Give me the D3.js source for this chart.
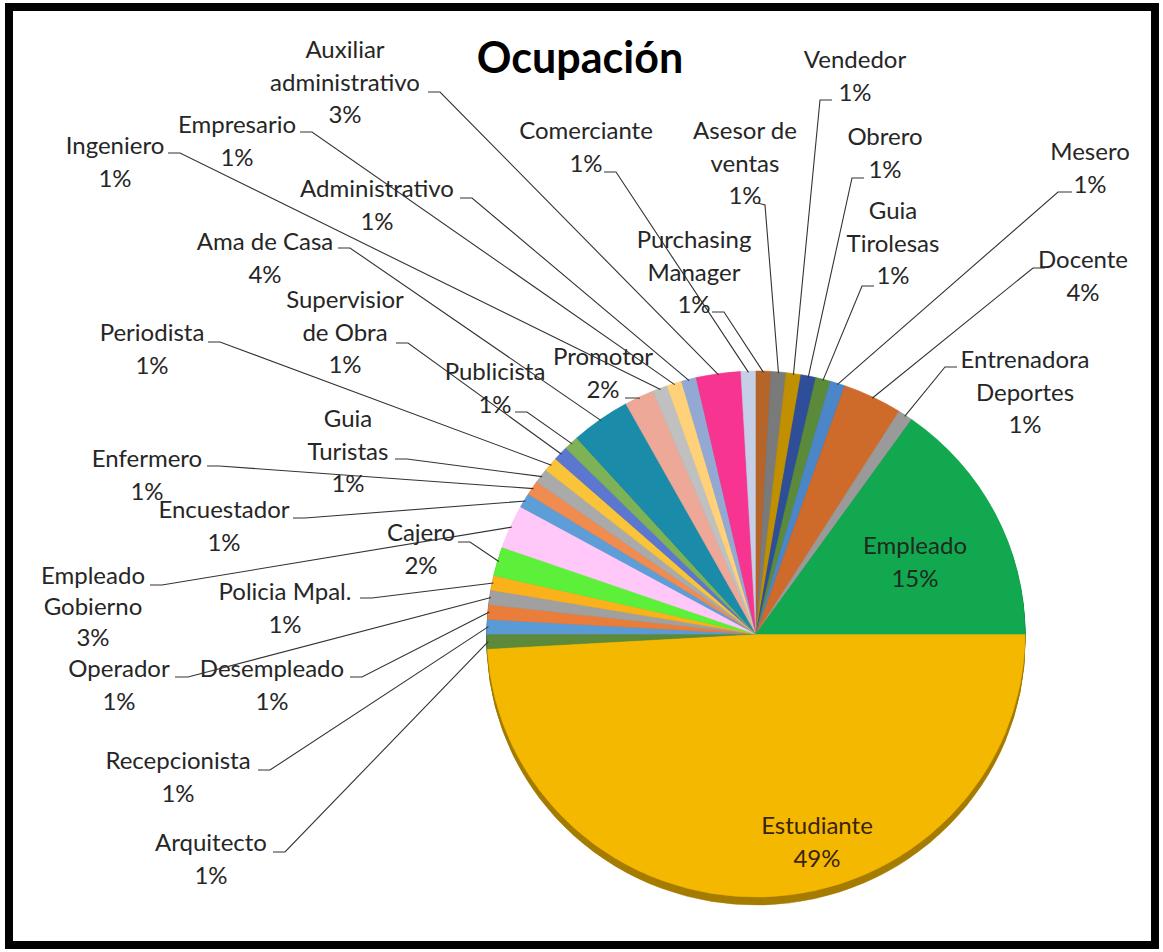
<!DOCTYPE html>
<html><head><meta charset="utf-8">
<script src="https://cdn.jsdelivr.net/npm/d3@7"></script>
<style>body{margin:0;background:#fff} text{font-family:Lato,"Open Sans",sans-serif}</style>
</head><body>
<svg id="c" width="1163" height="952"></svg>
<script>
// ---- data ----
const categories = ["Estudiante","Arquitecto","Recepcionista","Desempleado","Operador","Policia Mpal.","Cajero","Empleado Gobierno","Encuestador","Enfermero","Guia Turistas","Periodista","Supervisior de Obra","Publicista","Ama de Casa","Promotor","Ingeniero","Empresario","Administrativo","Auxiliar administrativo","Comerciante","Purchasing Manager","Asesor de ventas","Vendedor","Obrero","Guia Tirolesas","Mesero","Docente","Entrenadora Deportes","Empleado"];
const counts = [55,1,1,1,1,1,2,3,1,1,1,1,1,1,4,2,1,1,1,3,1,1,1,1,1,1,1,4,1,17];
const palette = ["#F4B800","#5C8A3A","#5B9BD5","#EB7D3A","#A0A0A0","#FBB21A","#5CF03A","#FFC8F8","#5E9ED8","#F08C50","#AAAAAA","#F9C33A","#5B77CF","#7DB356","#1A8BA8","#EDA898","#C0C0C0","#FFD27A","#94A8D4","#F7348F","#C5D0E6","#B5652A","#7A7A7A","#C09000","#2E4E9A","#5A8A3A","#4A86C8","#CE6A2A","#9A9A9A","#12A84F"];
const chartTitle = "Ocupación";

// ---- label layout ----
const labelLayout = [
 {n:"Estudiante", x:817, y:826, inside:true, fill:"#3a2410"},
 {n:"Arquitecto", x:211, y:843, u:[[273,852],[285,852]]},
 {n:"Recepcionista", x:178, y:761, u:[[258,770],[270,770]]},
 {n:"Desempleado", x:272, y:669, u:[[350,677],[362,677]]},
 {n:"Operador", x:119, y:669, u:[[175,677],[188,677]]},
 {n:"Policia Mpal.", x:285, y:592, u:[[360,598],[372,598]]},
 {n:"Cajero", x:421, y:533, u:[[458,542],[470,542]]},
 {n:"Empleado Gobierno", x:93, y:576, lh:31, lines:["Empleado","Gobierno"], u:[[150,585],[162,585]]},
 {n:"Encuestador", x:224, y:510, u:[[293,518],[305,518]]},
 {n:"Enfermero", x:147, y:459, u:[[207,466],[219,466]]},
 {n:"Guia Turistas", x:348, y:419, lines:["Guia","Turistas"], u:[[395,459],[407,459]]},
 {n:"Periodista", x:152, y:333, u:[[208,342],[220,342]]},
 {n:"Supervisior de Obra", x:345, y:300, lines:["Supervisior","de Obra"], u:[[396,343],[408,343]]},
 {n:"Publicista", x:495, y:372, u:[[515,412],[527,412]]},
 {n:"Ama de Casa", x:265, y:242, u:[[338,248],[350,248]]},
 {n:"Promotor", x:603, y:357, u:[[625,398],[637,398]]},
 {n:"Ingeniero", x:115, y:146, u:[[168,153],[180,153]]},
 {n:"Empresario", x:237, y:125, u:[[300,132],[312,132]]},
 {n:"Administrativo", x:377, y:189, u:[[460,198],[472,198]]},
 {n:"Auxiliar administrativo", x:345, y:50, lines:["Auxiliar","administrativo"], u:[[428,92],[440,92]]},
 {n:"Comerciante", x:586, y:131, u:[[604,172],[616,172]]},
 {n:"Purchasing Manager", x:694, y:240, lines:["Purchasing","Manager"], u:[[712,312],[724,312]]},
 {n:"Asesor de ventas", x:745, y:131, lines:["Asesor de","ventas"], u:[[758,203],[765,205]]},
 {n:"Vendedor", x:855, y:60, u:[[832,100],[820,100]]},
 {n:"Obrero", x:885, y:137, u:[[864,178],[852,178]]},
 {n:"Guia Tirolesas", x:893, y:211, lines:["Guia","Tirolesas"], u:[[874,286],[862,286]]},
 {n:"Mesero", x:1090, y:152, u:[[1072,192],[1058,192]]},
 {n:"Docente", x:1083, y:260, u:[[1045,268],[1033,268]]},
 {n:"Entrenadora Deportes", x:1025, y:360, lines:["Entrenadora","Deportes"], u:[[957,367],[945,367]]},
 {n:"Empleado", x:915, y:546, inside:true, fill:"#1e2a1e"}
];

const svg = d3.select("#c");
svg.append("rect").attr("x",9).attr("y",7).attr("width",1146).attr("height",938)
  .attr("fill","#fff").attr("stroke","#000").attr("stroke-width",8);

const total = d3.sum(counts);
const pie = d3.pie().sort(null).value(d=>d).startAngle(Math.PI/2).endAngle(Math.PI/2+2*Math.PI);
const arcs = pie(counts);
const cx=756, cy=634, rx=269, ry=263, depth=8;
const arc = d3.arc().innerRadius(0).outerRadius(rx);
const color = d3.scaleOrdinal().domain(categories).range(palette);

// 3D side
for (let k=depth;k>=1;k--){
  const g = svg.append("g").attr("transform",`translate(${cx},${cy+k}) scale(1,${ry/rx})`);
  g.selectAll("path").data(arcs).join("path").attr("d",arc)
    .attr("fill",(d,i)=>d3.color(color(categories[i])).darker(1.1))
    .attr("stroke",(d,i)=>d3.color(color(categories[i])).darker(1.1)).attr("stroke-width",0.6);
}
// top face
const face = svg.append("g").attr("transform",`translate(${cx},${cy}) scale(1,${ry/rx})`);
face.selectAll("path").data(arcs).join("path").attr("d",arc)
  .attr("fill",(d,i)=>color(categories[i]))
  .attr("stroke",(d,i)=>color(categories[i])).attr("stroke-width",0.6);

function edge(a,f){ return [cx+rx*f*Math.sin(a), cy-ry*f*Math.cos(a)]; }

// title
svg.append("text").attr("x",580).attr("y",73).attr("text-anchor","middle")
  .attr("font-size",43).attr("font-weight","bold").attr("fill","#000").text(chartTitle);

// labels + leaders
const fs=24, lhDefault=32.5;
const lineGen = d3.line();
labelLayout.forEach(L=>{
  const i = categories.indexOf(L.n);
  const a = arcs[i];
  const mid = (a.startAngle+a.endAngle)/2;
  const pct = Math.round(counts[i]/total*100)+"%";
  const lines = (L.lines||[L.n]).concat([pct]);
  const lh = L.lh||lhDefault;
  if(!L.inside){
    svg.append("path").attr("d",lineGen([L.u[0],L.u[1],edge(mid,0.995)]))
      .attr("fill","none").attr("stroke","#333").attr("stroke-width",1.1);
  }
  const t = svg.append("text").attr("text-anchor","middle").attr("font-size",fs)
    .attr("fill",L.fill||"#262626");
  lines.forEach((s,j)=>t.append("tspan").attr("x",L.x).attr("y",L.y+8+j*lh).text(s));
});
</script>
</body></html>
